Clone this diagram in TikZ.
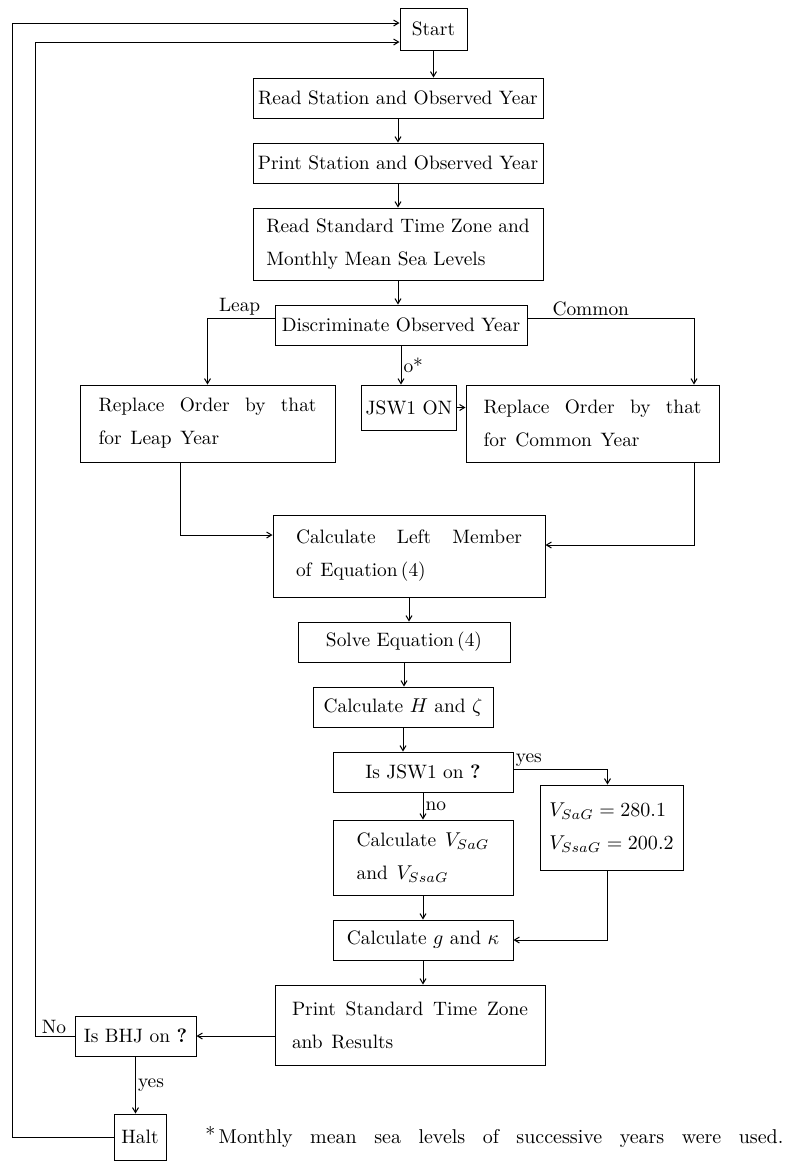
\documentclass[tikz,border=0pt]{standalone}
\usetikzlibrary{arrows.meta,calc}
\newcommand{\wl}[2]{\makebox[\dimexpr #1pt/2\relax][s]{#2}}
\newcommand{\widefont}{\fontsize{9.7}{16.5}\selectfont\spaceskip=0.45em plus 0.3em\relax}
\begin{document}
\begin{tikzpicture}[x=0.5pt,y=-0.5pt,
  font=\fontsize{9.7}{16.5}\selectfont,
  box/.style={draw,line width=0.5pt,inner sep=0pt,align=left},
  wide/.style={font=\widefont},
  sz/.style n args={2}{minimum width=#1*0.5pt,minimum height=#2*0.5pt},
  arr/.style={line width=0.5pt,-{Straight Barb[length=2.5pt,width=3pt]}},
  lbl/.style={inner sep=1pt}]
\useasboundingbox (0,0) rectangle (790,1164);
% nodes
\node[box,sz={67}{42}] (start) at (433.5,29) {Start};
\node[box,sz={290}{40}] (rs) at (398,98) {Read Station and Observed Year};
\node[box,sz={290}{40}] (ps) at (398,163) {Print Station and Observed Year};
\node[box,sz={290}{72}] (rz) at (398,244) {Read Standard Time Zone and\\Monthly Mean Sea Levels};
\node[box,sz={252}{40}] (disc) at (401,325) {Discriminate Observed Year};
\node[box,wide,sz={255}{77}] (leap) at (207.5,423.5) {\wl{218}{Replace Order by that}\\for Leap Year};
\node[box,sz={95}{45}] (jsw) at (409,407.5) {JSW1 ON};
\node[box,wide,sz={253}{77}] (common) at (592.5,423.5) {\wl{218}{Replace Order by that}\\for Common Year};
\node[box,wide,sz={272}{82}] (calc) at (409,556) {\wl{226}{Calculate Left Member}\\of Equation\,(4)};
\node[box,sz={212}{40}] (solve) at (404,642) {Solve Equation\,(4)};
\node[box,sz={180}{40}] (calch) at (403,707) {Calculate $H$ and $\zeta$};
\node[box,sz={180}{40}] (isjsw) at (423,772) {Is JSW1 on \textbf{?}};
\node[box,wide,sz={143}{85}] (vbox) at (611.5,827.5) {$V_{SaG}=280.1$\\$V_{SsaG}=200.2$};
\node[box,wide,sz={180}{75}] (calcv) at (423,857.5) {Calculate $V_{SaG}$\\and $V_{SsaG}$};
\node[box,sz={180}{40}] (calcg) at (423,940) {Calculate $g$ and $\kappa$};
\node[box,wide,sz={270}{80}] (print) at (410,1025) {\wl{236}{Print Standard Time Zone}\\anb Results};
\node[box,sz={121}{40}] (bhj) at (135.5,1036) {Is BHJ on \textbf{?}};
\node[box,sz={52}{46}] (halt) at (140,1137) {Halt};
\node[lbl,anchor=west,font=\fontsize{10}{13}\selectfont] (foot) at (203,1137) {\wl{578}{\raisebox{0.2ex}{*}\,Monthly mean sea levels of successive years were used.}};
% connectors
\draw[arr] (start.south) -- (start.south |- rs.north);
\draw[arr] (rs.south) -- (ps.north);
\draw[arr] (ps.south) -- (rz.north);
\draw[arr] (rz.south) -- (rz.south |- disc.north);
\draw[arr] ($(disc.west)+(0,-7)$) -| (leap.north) node[lbl,pos=0.26,above] {Leap};
\draw[arr] ($(disc.east)+(0,-7)$) -| ($(common.north)+(101.5,0)$) node[lbl,pos=0.19,above] {Common};
\draw[arr] (disc.south) -- (disc.south |- jsw.north) node[lbl,midway,right] {o*};
\draw[arr] (jsw.east) -- (jsw.east -| common.west);
\draw[arr] ($(leap.south)+(-27,0)$) |- ($(calc.west)+(0,-21)$);
\draw[arr] ($(common.south)+(101.5,0)$) |- ($(calc.east)+(0,-11)$);
\draw[arr] (calc.south) -- (calc.south |- solve.north);
\draw[arr] (solve.south) -- (solve.south |- calch.north);
\draw[arr] (calch.south) -- (calch.south |- isjsw.north);
\draw[arr] ($(isjsw.east)+(0,-3)$) -| ($(vbox.north)+(-4,0)$);
\node[lbl,anchor=south west] at ($(isjsw.east)+(0,-3)$) {yes};
\draw[arr] (isjsw.south) -- (calcv.north) node[lbl,midway,right] {no};
\draw[arr] ($(vbox.south)+(-4,0)$) |- (calcg.east);
\draw[arr] (calcv.south) -- (calcg.north);
\draw[arr] (calcg.south) -- (calcg.south |- print.north);
\draw[arr] (print.west |- bhj.east) -- (bhj.east);
\draw[arr] (bhj.west) -- (35,1036) |- ($(start.west)+(0,13)$);
\node[lbl,anchor=south] at (54,1036) {No};
\draw[arr] (bhj.south) -- (bhj.south |- halt.north) node[lbl,midway,right] {yes};
\draw[arr] (halt.west) -- (12,1137) |- ($(start.west)+(0,-6)$);
\end{tikzpicture}
\end{document}
